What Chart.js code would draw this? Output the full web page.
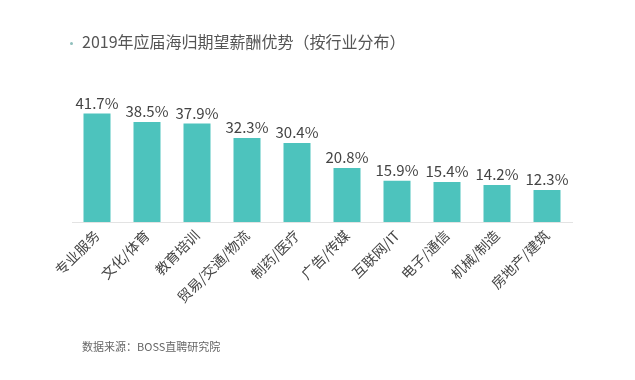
<!DOCTYPE html>
<html>
<head>
<meta charset="utf-8">
<script src="https://cdn.jsdelivr.net/npm/chart.js@4.4.1/dist/chart.umd.min.js"></script>
<style>
  html, body { margin: 0; padding: 0; background: #fff; }
  #wrap { position: relative; width: 635px; height: 380px; overflow: hidden; }
  canvas { position: absolute; left: 0; top: 0; }
  .title { position: absolute; left: 82px; top: 31px; font-family: "Noto Sans CJK SC", sans-serif; font-size: 16px; color: #555; white-space: nowrap; line-height: 20px; }
  .dot { position: absolute; left: 70px; top: 42px; width: 3px; height: 3px; border-radius: 50%; background: #8fbfbc; }
  .source { position: absolute; left: 82px; top: 338px; font-family: "Noto Sans CJK SC", sans-serif; font-size: 11px; color: #666; white-space: nowrap; }
</style>
</head>
<body>
<div id="wrap">
  <canvas id="c" width="635" height="380"></canvas>
  <div class="dot"></div>
  <div class="title">2019年应届海归期望薪酬优势（按行业分布）</div>
  <div class="source">数据来源：BOSS直聘研究院</div>
</div>
<script>
const categories = ["专业服务", "文化/体育", "教育培训", "贸易/交通/物流", "制药/医疗", "广告/传媒", "互联网/IT", "电子/通信", "机械/制造", "房地产/建筑"];
const values = [41.7, 38.5, 37.9, 32.3, 30.4, 20.8, 15.9, 15.4, 14.2, 12.3];

const valueLabels = {
  id: 'valueLabels',
  afterDatasetsDraw(chart) {
    const ctx = chart.ctx;
    const meta = chart.getDatasetMeta(0);
    ctx.save();
    ctx.font = '15px "Noto Sans CJK SC", sans-serif';
    ctx.fillStyle = '#444';
    ctx.textAlign = 'center';
    ctx.textBaseline = 'bottom';
    meta.data.forEach((bar, i) => {
      ctx.fillText(values[i].toFixed(1) + '%', bar.x, bar.y - 3);
    });
    ctx.restore();
  }
};

new Chart(document.getElementById('c'), {
  type: 'bar',
  data: {
    labels: categories,
    datasets: [{
      data: values,
      backgroundColor: '#4dc3bd',
      borderWidth: 0,
      barPercentage: 0.54,
      categoryPercentage: 1.0
    }]
  },
  options: {
    responsive: false,
    animation: false,
    layout: { padding: { left: 72, right: 63, top: 92, bottom: 0 } },
    plugins: { legend: { display: false }, tooltip: { enabled: false } },
    scales: {
      y: { display: false, min: 0, max: 50 },
      x: {
        grid: { display: false, drawTicks: false },
        border: { display: true, color: '#e3e3e3', width: 1 },
        ticks: {
          color: '#444',
          font: { family: '"Noto Sans CJK SC", sans-serif', size: 14 },
          minRotation: 45,
          maxRotation: 45,
          padding: 5,
          autoSkip: false
        },
        afterFit(scale) { scale.height = 158; }
      }
    }
  },
  plugins: [valueLabels]
});
</script>
</body>
</html>
